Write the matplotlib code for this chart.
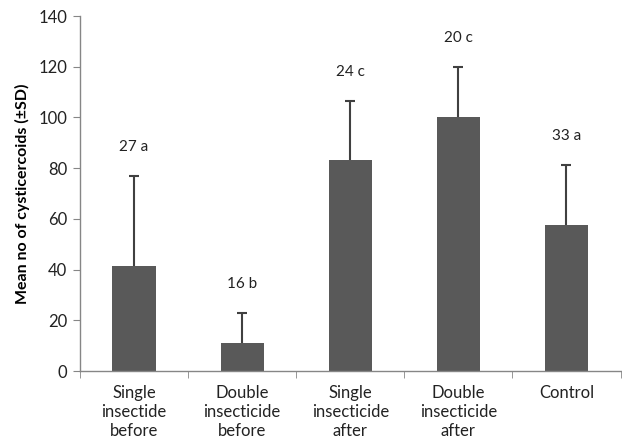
import numpy as np
import matplotlib.pyplot as plt

categories = ['Single\ninsectide\nbefore', 'Double\ninsecticide\nbefore',
              'Single\ninsecticide\nafter', 'Double\ninsecticide\nafter', 'Control']
means = [41.5, 11, 83.2, 100, 57.8]
sds = [35.5, 12, 23.3, 19.8, 23.3]
annotations = ['27 a', '16 b', '24 c', '20 c', '33 a']

plt.rcParams['font.family'] = ['Lato', 'DejaVu Sans']

fig = plt.figure(figsize=(6.22, 4.46), dpi=100)
ax = fig.add_axes([0.1286, 0.168, 0.869, 0.796])

x = np.arange(len(categories))
ax.bar(x, means, width=0.4, color='#595959', zorder=2)
eb = ax.errorbar(x, means, yerr=[np.zeros(len(sds)), sds], fmt='none',
                 ecolor='#404040', elinewidth=1.5, capsize=3.5, capthick=1.5, zorder=3)
# hide the lower cap that sits on top of each bar
eb[1][0].set_visible(False)

for xi, m, s, t in zip(x, means, sds, annotations):
    ax.text(xi, m + s + 11.5, t, ha='center', va='center', fontsize=11, color='#222222')

ax.set_xlim(-0.5, 4.5)
ax.set_ylim(0, 140)
ax.set_yticks(np.arange(0, 141, 20))
ax.set_xticks(x)
ax.set_xticklabels(categories, fontsize=12, linespacing=1.25)
ax.set_xticks(np.arange(-0.5, 4.6, 1), minor=True)
ax.tick_params(axis='x', which='major', length=0, pad=10, colors='#222222')
ax.tick_params(axis='x', which='minor', length=5, color='#868686')
ax.tick_params(axis='y', length=5, color='#868686', labelsize=12, labelcolor='#222222', pad=4)

ax.set_ylabel('Mean no of cysticercoids (±SD)', fontsize=11.5, fontweight='bold', labelpad=6)

for side in ['top', 'right']:
    ax.spines[side].set_visible(False)
for side in ['left', 'bottom']:
    ax.spines[side].set_color('#868686')
    ax.spines[side].set_linewidth(1)

fig.savefig('out.png', dpi=100)
